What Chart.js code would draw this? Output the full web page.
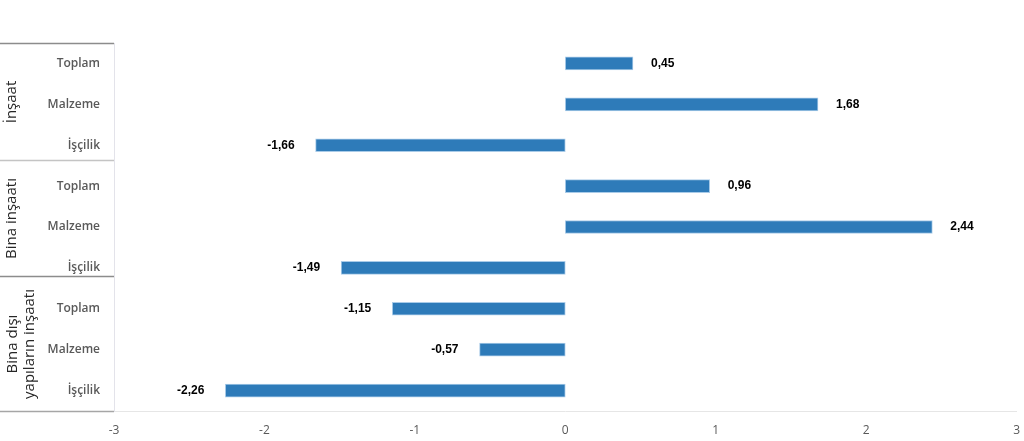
<!DOCTYPE html>
<html>
<head>
<meta charset="utf-8">
<script src="https://cdn.jsdelivr.net/npm/chart.js@4"></script>
<style>
  html, body { margin: 0; padding: 0; background: #fff; overflow: hidden; }
  #wrap { width: 1032px; height: 441px; }
</style>
</head>
<body>
<div id="wrap"><canvas id="chart"></canvas></div>
<script>
// data
const categories = ['Toplam', 'Malzeme', 'İşçilik', 'Toplam', 'Malzeme', 'İşçilik', 'Toplam', 'Malzeme', 'İşçilik'];
const values = [0.45, 1.68, -1.66, 0.96, 2.44, -1.49, -1.15, -0.57, -2.26];
const groups = [['İnşaat'], ['Bina inşaatı'], ['Bina dışı', 'yapıların inşaatı']];
const xTicks = [-3, -2, -1, 0, 1, 2, 3];

// group separators, given in row units (between rows)
const separators = [-0.5, 2.35, 5.2, 8.5];
const sepColors = ['#8c8c8c', '#c4c4c4', '#8c8c8c', '#a6a6a6'];

function fmt(v) {
  return v.toFixed(2).replace('.', ',');
}

const groupPlugin = {
  id: 'groups',
  afterDraw(chart) {
    const ctx = chart.ctx;
    const y = chart.scales.y;
    const left = chart.chartArea.left;
    const ys = separators.map(s => Math.round(y.getPixelForValue(s)) + 0.5);
    ctx.save();
    ys.forEach((py, i) => {
      ctx.strokeStyle = sepColors[i];
      ctx.lineWidth = 1.5;
      ctx.beginPath();
      ctx.moveTo(0, py);
      ctx.lineTo(left, py);
      ctx.stroke();
    });
    ctx.fillStyle = '#262626';
    ctx.font = '15px "Open Sans"';
    ctx.textAlign = 'center';
    ctx.textBaseline = 'middle';
    groups.forEach((lines, i) => {
      const cy = (ys[i] + ys[i + 1]) / 2;
      ctx.save();
      ctx.translate(lines.length > 1 ? 21 : 12, cy);
      ctx.rotate(-Math.PI / 2);
      lines.forEach((t, j) => {
        ctx.fillText(t, 0, (j - (lines.length - 1) / 2) * 17);
      });
      ctx.restore();
    });
    ctx.restore();
  }
};

const valuePlugin = {
  id: 'values',
  afterDatasetsDraw(chart) {
    const ctx = chart.ctx;
    const meta = chart.getDatasetMeta(0);
    ctx.save();
    ctx.font = 'bold 12px "Liberation Sans"';
    ctx.fillStyle = '#000';
    ctx.textBaseline = 'middle';
    meta.data.forEach((bar, i) => {
      const v = values[i];
      if (v >= 0) {
        ctx.textAlign = 'left';
        ctx.fillText(fmt(v), bar.x + 18, bar.y);
      } else {
        ctx.textAlign = 'right';
        ctx.fillText(fmt(v), bar.x - 21, bar.y);
      }
    });
    ctx.restore();
  }
};

new Chart(document.getElementById('chart'), {
  type: 'bar',
  data: {
    labels: categories,
    datasets: [{
      data: values,
      backgroundColor: '#2e7bb9',
      borderColor: '#a9cbe8',
      borderWidth: 1,
      borderSkipped: false,
      barThickness: 13
    }]
  },
  options: {
    indexAxis: 'y',
    responsive: true,
    maintainAspectRatio: false,
    animation: false,
    layout: { padding: { top: 43, right: 0, left: 0, bottom: 0 } },
    plugins: {
      legend: { display: false },
      tooltip: { enabled: false }
    },
    scales: {
      x: {
        min: -3,
        max: 3,
        afterBuildTicks(scale) {
          scale.ticks = xTicks.map(v => ({ value: v }));
        },
        grid: { display: false, drawTicks: false },
        border: { display: true, color: '#e6e6e6', width: 1 },
        ticks: {
          padding: 12,
          color: '#595959',
          font: { family: 'Open Sans', size: 12 }
        },
        afterFit(scale) { scale.height = 30; }
      },
      y: {
        grid: { display: false, drawTicks: false },
        border: { display: true, color: '#e3e3ea', width: 1 },
        ticks: {
          padding: 14,
          color: '#595959',
          font: { family: 'Open Sans', size: 12, weight: '600' }
        },
        afterFit(scale) { scale.width = 114; }
      }
    }
  },
  plugins: [groupPlugin, valuePlugin]
});
</script>
</body>
</html>
